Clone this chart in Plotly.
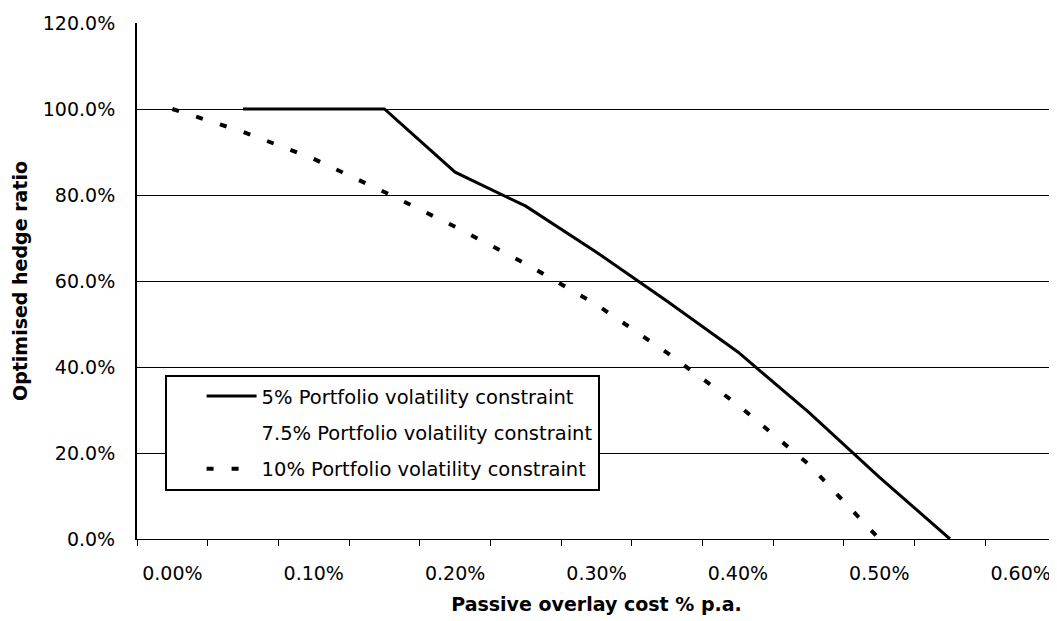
import plotly.graph_objects as go

# passive overlay cost (% p.a.) and optimised hedge ratio (%)
cost = [0.00, 0.05, 0.10, 0.15, 0.20, 0.25, 0.30, 0.35, 0.40, 0.45, 0.50, 0.55, 0.60]
vol_5 = [None, 100, 100, 100, 85.3, 77.4, 66.7, 55.3, 43.5, 29.5, 14.4, 0, None]
vol_7_5 = [None, None, None, None, None, None, None, None, None, None, None, None, None]
vol_10 = [100, 94.7, 88.4, 80.7, 72.6, 64.0, 54.5, 43.3, 31.2, 17.4, 0, None, None]

x_ticks = [0.0, 0.1, 0.2, 0.3, 0.4, 0.5, 0.6]
x_labels = ["0.00%", "0.10%", "0.20%", "0.30%", "0.40%", "0.50%", "0.60%"]
y_ticks = [0, 20, 40, 60, 80, 100, 120]
y_labels = ["0.0%", "20.0%", "40.0%", "60.0%", "80.0%", "100.0%", "120.0%"]

FONT = "DejaVu Sans, Arial, sans-serif"

fig = go.Figure()
fig.add_trace(go.Scatter(
    x=cost, y=vol_5, name="5% Portfolio volatility constraint",
    mode="lines", line=dict(color="black", width=3), legendgroup="a"
))
fig.add_trace(go.Scatter(
    x=cost, y=vol_7_5, name="7.5% Portfolio volatility constraint",
    mode="lines", line=dict(color="rgba(0,0,0,0)", width=3), legendgroup="b"
))
fig.add_trace(go.Scatter(
    x=cost, y=vol_10, name="10% Portfolio volatility constraint",
    mode="lines", line=dict(color="black", width=4, dash="7px,18px"), legendgroup="c"
))

# page body adds an 8px offset, so the figure is sized a little smaller
fig.update_layout(
    width=1049, height=613,
    margin=dict(l=129, r=1, t=15, b=82),
    plot_bgcolor="white", paper_bgcolor="white",
    font=dict(family=FONT, size=19, color="black"),
    showlegend=True,
    legend=dict(
        x=0.03, y=0.318, xanchor="left", yanchor="top",
        bgcolor="white", bordercolor="black", borderwidth=2,
        font=dict(size=19.5), itemwidth=50, indentation=35, tracegroupgap=8,
    ),
)
fig.update_xaxes(
    range=[-0.025, 0.625], tickvals=x_ticks, ticktext=x_labels,
    ticks="", ticklabelstandoff=17, showgrid=False, zeroline=False, automargin=False,
    showline=True, linecolor="black", linewidth=1,
    minor=dict(tick0=-0.025, dtick=0.05, ticks="outside", ticklen=6, tickcolor="black", showgrid=False),
    title=dict(text="<b>Passive overlay cost % p.a.</b>", standoff=14, font=dict(size=19)),
)
fig.update_yaxes(
    range=[0, 120], tickvals=y_ticks, ticktext=y_labels,
    ticks="", ticklabelstandoff=16, showgrid=True, gridcolor="black", gridwidth=1,
    zeroline=False, showline=True, linecolor="black", linewidth=2, mirror=True, automargin=False,
    title=dict(text="<b>Optimised hedge ratio</b>", standoff=10, font=dict(size=19)),
)

fig.write_html("out.html")
